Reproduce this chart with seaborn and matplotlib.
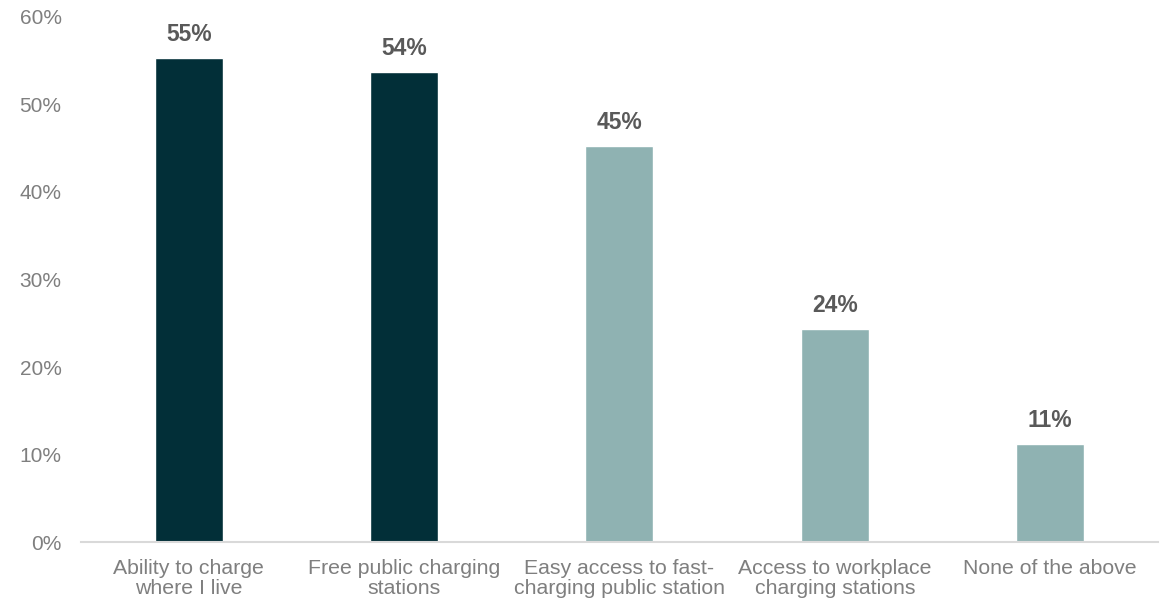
import matplotlib
matplotlib.use("Agg")
import matplotlib.pyplot as plt
import seaborn as sns
import pandas as pd

categories = [
    "Ability to charge\nwhere I live",
    "Free public charging\nstations",
    "Easy access to fast-\ncharging public station",
    "Access to workplace\ncharging stations",
    "None of the above",
]
shares = [55.3, 53.7, 45.2, 24.3, 11.2]
bar_colors = ["#022f38", "#022f38", "#8fb2b2", "#8fb2b2", "#8fb2b2"]
y_ticks = [0, 10, 20, 30, 40, 50, 60]
y_tick_labels = [f"{t}%" for t in y_ticks]

sns.set_theme(style="white")
plt.rcParams["font.family"] = ["Liberation Sans", "DejaVu Sans"]

df = pd.DataFrame({"option": categories, "share": shares})

fig = plt.figure(figsize=(11.6, 6.04), dpi=100)
ax = fig.add_axes([0.0698, 0.1026, 0.9284, 0.8693])

sns.barplot(data=df, x="option", y="share", hue="option", palette=bar_colors,
            legend=False, width=0.316, saturation=1, ax=ax)

ax.set_xlim(-0.5, 4.5)
ax.set_ylim(0, 60)
ax.set_yticks(y_ticks)
ax.set_yticklabels(y_tick_labels)
ax.set_xlabel("")
ax.set_ylabel("")

for i, v in enumerate(shares):
    ax.annotate(f"{v:.0f}%", (i, v), xytext=(0, 9), textcoords="offset points",
                ha="center", va="bottom", fontsize=16.5, fontweight="bold",
                color="#595959")

for side in ["top", "right", "left"]:
    ax.spines[side].set_visible(False)
ax.spines["bottom"].set_color("#d9d9d9")
ax.spines["bottom"].set_linewidth(1.5)

ax.tick_params(axis="y", length=0, pad=14, labelsize=15, labelcolor="#7f7f7f")
ax.tick_params(axis="x", length=0, pad=12, labelsize=15.3, labelcolor="#7f7f7f")
for lbl in ax.get_xticklabels():
    lbl.set_linespacing(1.1)
    lbl.set_va("top")

fig.savefig("out.png", dpi=100)
